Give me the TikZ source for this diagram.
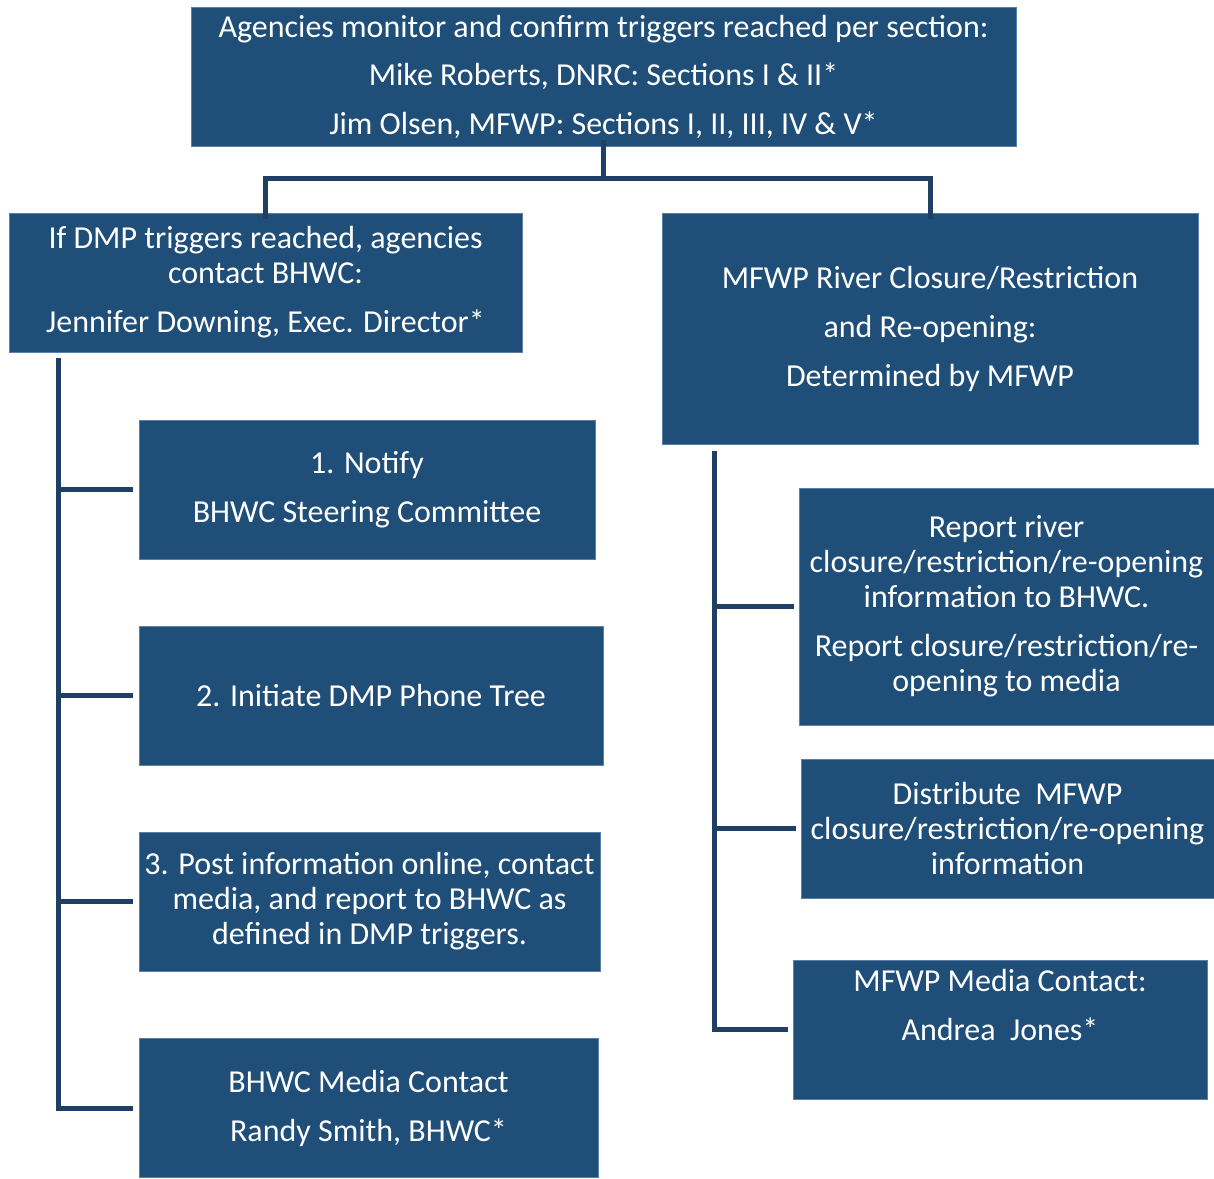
\documentclass[tikz,border=0pt]{standalone}
\usepackage{fontspec}
\setmainfont{Carlito}
\definecolor{boxfill}{HTML}{1F4E79}
\definecolor{boxedge}{HTML}{5A7FA8}
\definecolor{linecol}{HTML}{1F3F64}
\begin{document}
\begin{tikzpicture}[x=1pt,y=-1pt,
  box/.style={rectangle, fill=boxfill, draw=boxedge, line width=0.8pt, text=white,
    align=center, inner sep=0pt, font=\fontsize{32}{35}\selectfont},
  conn/.style={draw=linecol, line width=5pt, line cap=butt, line join=miter}]
\useasboundingbox (0,0) rectangle (1214,1178);
% boxes
\node[box, minimum width=825, minimum height=139] (top) at (603.5,76.5)
  {Agencies monitor and confirm triggers reached per section:\\[13.5pt]
   Mike Roberts, DNRC: Sections I \& II*\\[13.5pt]
   Jim Olsen, MFWP: Sections I, II, III, IV \& V*};
\node[box, minimum width=513, minimum height=139] (lt) at (265.5,282.5)
  {If DMP triggers reached, agencies\\contact BHWC:\\[14pt]
   Jennifer Downing, Exec. Director*};
\node[box, minimum width=536, minimum height=231] (rt) at (930,328.5)
  {MFWP River Closure/Restriction\\[14pt]and Re-opening:\\[14pt]Determined by MFWP};
\node[box, minimum width=456, minimum height=139] (b1) at (367,489.5)
  {1. Notify\\[14pt]BHWC Steering Committee};
\node[box, minimum width=464, minimum height=139] (b2) at (371,695.5)
  {2. Initiate DMP Phone Tree};
\node[box, minimum width=461, minimum height=139] (b3) at (369.5,901.5)
  {3. Post information online, contact\\media, and report to BHWC as\\defined in DMP triggers.};
\node[box, minimum width=459, minimum height=139] (b4) at (368.5,1108)
  {BHWC Media Contact\\[14pt]Randy Smith, BHWC*};
\node[box, minimum width=415, minimum height=237] (r1) at (1006.5,606.5)
  {Report river\\closure/restriction/re-opening\\information to BHWC.\\[14pt]
   Report closure/restriction/re-\\opening to media};
\node[box, minimum width=413, minimum height=139] (r2) at (1007.5,828.5)
  {Distribute\ \ MFWP\\closure/restriction/re-opening\\information};
\node[box, minimum width=414, minimum height=139] (r3) at (1000,1029.5)
  {MFWP Media Contact:\\[14pt]Andrea\ \ Jones*\\[14pt]\mbox{}};
% top connectors
\coordinate (bus) at (603.5,178);
\draw[conn] ([yshift=6pt]top.south) -- (bus);
\draw[conn] ([yshift=-6pt]lt.north) |- (bus) -| ([yshift=-6pt]rt.north);
% left spine
\coordinate (ls) at (58,358);
\draw[conn] (ls) |- ([xshift=-6pt]b4.west);
\draw[conn] (ls |- b1.west) -- ([xshift=-6pt]b1.west);
\draw[conn] (ls |- b2.west) -- ([xshift=-6pt]b2.west);
\draw[conn] (ls |- b3.west) -- ([xshift=-6pt]b3.west);
% right spine
\coordinate (rs) at (714,451);
\draw[conn] (rs) |- ([xshift=-5pt]r3.west);
\draw[conn] (rs |- r1.west) -- ([xshift=-5pt]r1.west);
\draw[conn] (rs |- r2.west) -- ([xshift=-5pt]r2.west);
\end{tikzpicture}
\end{document}
